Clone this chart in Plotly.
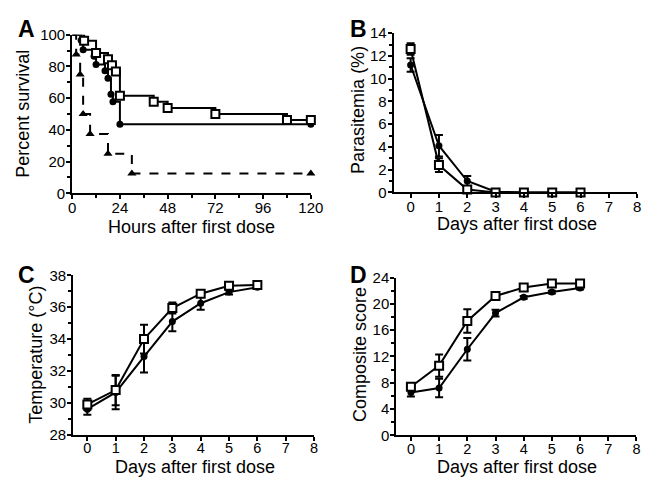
import plotly.graph_objects as go

FONT = "Liberation Sans, Arial, Helvetica, sans-serif"

# ---- Panel A: Kaplan-Meier survival (hours, percent) ----
a_sq_t = [0, 6, 12, 18, 20, 22, 24, 41, 48, 72, 108, 120]
a_sq_s = [100, 96.2, 88.5, 84.6, 80.8, 76.9, 61.5, 57.7, 53.8, 50.0, 46.2, 46.2]
a_ci_t = [0, 4.5, 5.5, 11, 12, 16.5, 18, 19.5, 20.5, 24, 120]
a_ci_s = [100, 96.6, 90.5, 86.4, 81.3, 77.3, 72.6, 62.5, 57.8, 43.5, 43.5]
a_tr_t = [0, 2, 4, 5.5, 9, 18, 30, 120]
a_tr_s = [100, 87.5, 75, 50, 37.5, 25, 12.5, 12.5]

# ---- Panels B-D: days after first dose ----
days = [0, 1, 2, 3, 4, 5, 6]
b_sq = [12.6, 2.4, 0.25, 0.0, 0.0, 0.0, 0.0]
b_sq_err = [0.5, 0.6, 0.2, 0.0, 0.0, 0.0, 0.0]
b_ci = [11.2, 4.1, 1.0, 0.05, 0.0, 0.0, 0.0]
b_ci_err = [0.6, 0.95, 0.45, 0.05, 0.0, 0.0, 0.0]

c_sq = [29.9, 30.8, 34.0, 35.95, 36.85, 37.35, 37.4]
c_sq_err = [0.35, 0.95, 0.9, 0.35, 0.15, 0.1, 0.05]
c_ci = [29.6, 30.65, 32.9, 35.1, 36.25, 36.95, 37.25]
c_ci_err = [0.35, 1.05, 1.0, 0.6, 0.4, 0.15, 0.05]

d_sq = [7.4, 10.6, 17.4, 21.2, 22.5, 23.1, 23.1]
d_sq_err = [0.5, 1.7, 1.8, 0.4, 0.2, 0.1, 0.1]
d_ci = [6.5, 7.2, 13.1, 18.6, 21.0, 21.8, 22.4]
d_ci_err = [0.6, 1.4, 1.7, 0.5, 0.2, 0.2, 0.2]

fig = go.Figure()

SQ = dict(symbol="square", size=8, color="white", opacity=1, line=dict(color="black", width=2))
CI = dict(symbol="circle", size=7, color="black", opacity=1, line=dict(color="black", width=0))
TR = dict(symbol="triangle-up", size=8, color="black", opacity=1, line=dict(color="black", width=0))


def km(t, s, marker, dash):
    fig.add_trace(go.Scatter(x=t, y=s, mode="lines", line=dict(color="black", width=2, shape="hv", dash=dash),
                             xaxis="x", yaxis="y", showlegend=False, cliponaxis=False))
    fig.add_trace(go.Scatter(x=t[1:], y=s[1:], mode="markers", marker=marker,
                             xaxis="x", yaxis="y", showlegend=False, cliponaxis=False))


km(a_tr_t, a_tr_s, TR, "dash")
km(a_ci_t, a_ci_s, CI, "solid")
km(a_sq_t, a_sq_s, SQ, "solid")


def series(y, err, marker, xa, ya):
    fig.add_trace(go.Scatter(x=days, y=y, mode="lines+markers",
                             line=dict(color="black", width=2),
                             marker=marker,
                             error_y=dict(type="data", array=err, visible=True, color="black", thickness=2, width=4),
                             xaxis=xa, yaxis=ya, showlegend=False, cliponaxis=False))


series(b_ci, b_ci_err, CI, "x2", "y2")
series(b_sq, b_sq_err, SQ, "x2", "y2")
series(c_ci, c_ci_err, CI, "x3", "y3")
series(c_sq, c_sq_err, SQ, "x3", "y3")
series(d_ci, d_ci_err, CI, "x4", "y4")
series(d_sq, d_sq_err, SQ, "x4", "y4")

W, H = 656, 488


def xd(a, b):
    return [a / W, b / W]


def yd(top, bottom):
    return [1 - bottom / H, 1 - top / H]


common = dict(showline=True, linecolor="black", linewidth=2, ticks="outside", ticklen=4, tickwidth=2,
              tickcolor="black", showgrid=False, zeroline=False,
              tickfont=dict(family=FONT, size=15, color="black"))


def ax(domain, rng, tickvals, anchor, minor=None, standoff=-2, fsize=15):
    d = dict(common)
    d.update(domain=domain, range=rng, tickmode="array", tickvals=tickvals, anchor=anchor,
             ticklabelstandoff=standoff, tickfont=dict(family=FONT, size=fsize, color="black"))
    if minor is not None:
        d["minor"] = dict(tickmode="array", tickvals=minor, ticks="outside", ticklen=3, tickwidth=2, tickcolor="black")
    return d


XS = -4
XB = -5
fig.update_layout(
    width=W, height=H, margin=dict(l=0, r=0, t=0, b=0),
    paper_bgcolor="white", plot_bgcolor="white",
    font=dict(family=FONT, color="black"),
    xaxis=ax(xd(70, 315), [0, 120], [0, 24, 48, 72, 96, 120], "y", [12, 36, 60, 84, 108], XS),
    yaxis=ax(yd(26.7, 191), [0, 100], [0, 20, 40, 60, 80, 100], "x", [10, 30, 50, 70, 90]),
    xaxis2=ax(xd(400, 650), [-0.6, 8], list(range(0, 9)), "y2", None, XS),
    yaxis2=ax(yd(25, 190), [0, 14], list(range(0, 15, 2)), "x2", list(range(1, 15, 2))),
    xaxis3=ax(xd(71, 318.3), [-0.5, 8], list(range(0, 9)), "y3", None, XB, 14.5),
    yaxis3=ax(yd(276, 441), [28, 38], list(range(28, 39, 2)), "x3", list(range(29, 38, 2))),
    xaxis4=ax(xd(402.7, 649.3), [-0.52, 8], list(range(0, 9)), "y4", None, XB, 14.5),
    yaxis4=ax(yd(278.3, 441.7), [0, 24], list(range(0, 25, 4)), "x4", list(range(2, 24, 4))),
)


def note(text, x, y, size=18, angle=0, bold=False):
    fig.add_annotation(text=f"<b>{text}</b>" if bold else text, x=x / W, y=1 - y / H, xref="paper", yref="paper",
                       showarrow=False, textangle=angle, xanchor="center", yanchor="middle",
                       font=dict(family=FONT, size=size, color="black"))


for lab, x, y in [("A", 23, 21), ("B", 364, 21), ("C", 23, 276), ("D", 364, 276)]:
    note(lab, x, y, size=23, bold=True)

note("Percent survival", 20, 108, angle=-90)
note("Hours after first dose", 192, 226)
note("Parasitemia (%)", 364, 105, angle=-90)
note("Days after first dose", 527, 223)
note("Temperature (°C)", 32, 358, angle=-90)
note("Days after first dose", 196, 475)
note("Composite score", 365, 358, angle=-90)
note("Days after first dose", 527, 475)

fig.write_html("out.html")
